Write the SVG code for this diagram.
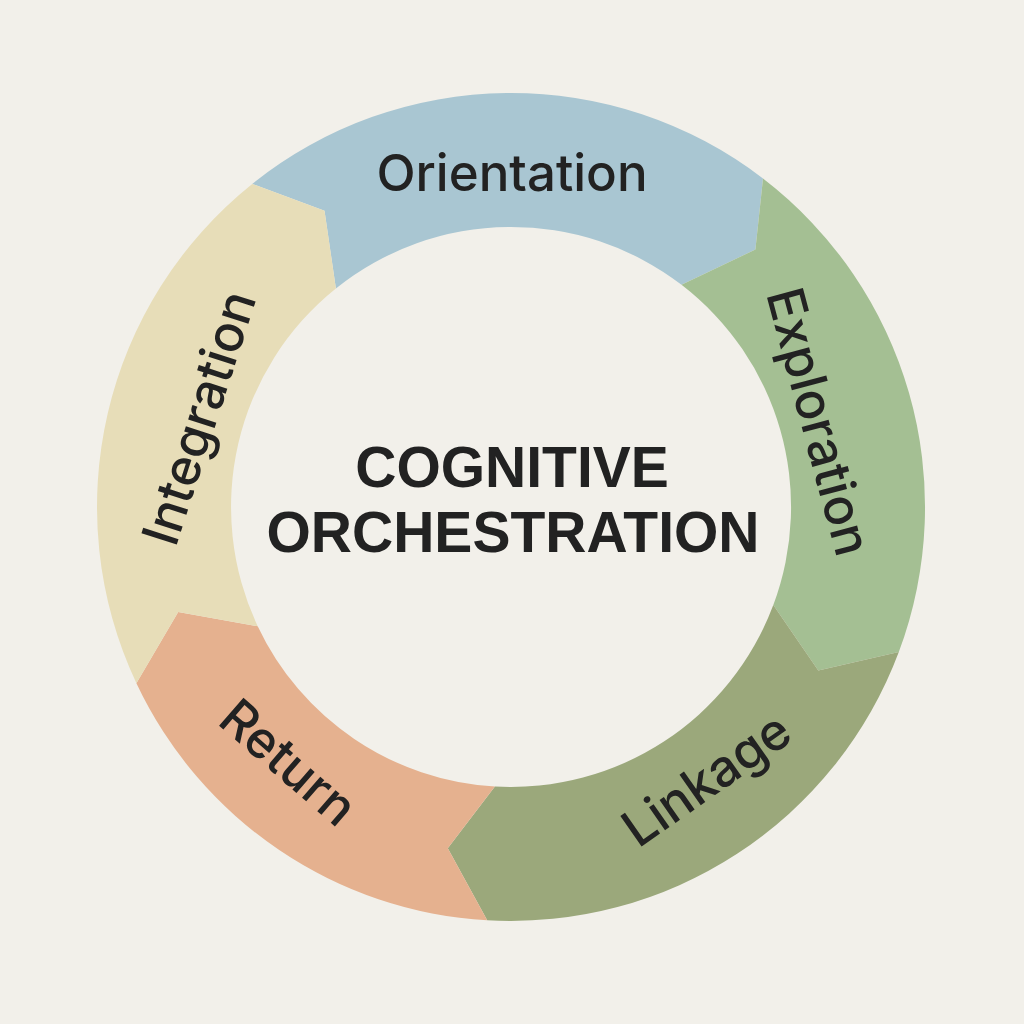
<svg xmlns="http://www.w3.org/2000/svg" width="1024" height="1024" viewBox="0 0 1024 1024">
<style>
.seg{stroke:none}
.lbl{font-family:Inter,"Open Sans","Liberation Sans",sans-serif;font-size:51px;font-weight:500;fill:#222;text-anchor:middle}
.title{font-family:"Liberation Sans",Arial,sans-serif;font-weight:bold;font-size:57px;fill:#222;text-anchor:middle}
</style>
<rect width="1024" height="1024" fill="#f2f0ea"/>
<g id="orientation">
<path class="seg" fill="#a9c6d2" d="M 252.2 183.9 A 414 414 0 0 1 763.0 178.5 L 755.4 249.5 L 681.5 284.8 A 280 280 0 0 0 335.9 288.5 L 324.5 210.8 Z"/>
<text class="lbl" x="512" y="191">Orientation</text>
</g>
<g id="exploration">
<path class="seg" fill="#a4bf93" d="M 763.0 178.5 A 414 414 0 0 1 898.8 652.0 L 818.3 670.4 L 773.3 605.1 A 280 280 0 0 0 681.5 284.8 L 755.4 249.5 Z"/>
<text class="lbl" transform="translate(818 422) rotate(75)" x="0" y="17">Exploration</text>
</g>
<g id="linkage">
<path class="seg" fill="#9ba87b" d="M 898.8 652.0 A 414 414 0 0 1 487.2 920.3 L 447.8 848.2 L 494.9 786.5 A 280 280 0 0 0 773.3 605.1 L 818.3 670.4 Z"/>
<text class="lbl" transform="translate(707 780) rotate(-35)" x="0" y="17">Linkage</text>
</g>
<g id="return">
<path class="seg" fill="#e5b18f" d="M 487.2 920.3 A 414 414 0 0 1 136.4 683.3 L 178.2 611.9 L 257.7 626.2 A 280 280 0 0 0 494.9 786.5 L 447.8 848.2 Z"/>
<text class="lbl" transform="translate(288 763) rotate(41)" x="0" y="17">Return</text>
</g>
<g id="integration">
<path class="seg" fill="#e7ddb8" d="M 136.4 683.3 A 414 414 0 0 1 252.2 183.9 L 324.5 210.8 L 335.9 288.5 A 280 280 0 0 0 257.7 626.2 L 178.2 611.9 Z"/>
<text class="lbl" transform="translate(200 418) rotate(-72)" x="0" y="17">Integration</text>
</g>
<g id="center">
<text class="title" x="512" y="487">COGNITIVE</text>
<text class="title" x="513" y="552">ORCHESTRATION</text>
</g>
<g id="connectors"/>
</svg>
